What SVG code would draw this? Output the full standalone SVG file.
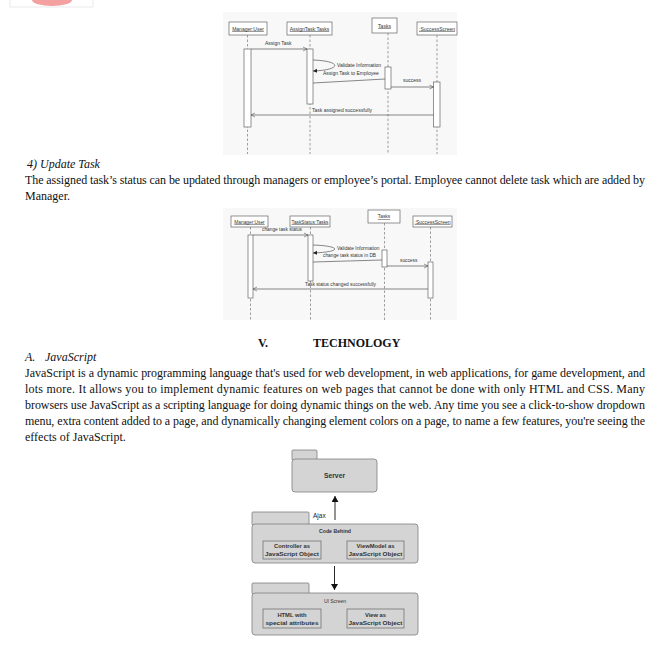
<svg xmlns="http://www.w3.org/2000/svg" width="661" height="648" viewBox="0 0 661 648">
<style>
.body{font-family:"Liberation Serif",serif;font-size:12px;fill:#111}
.it{font-style:italic}
.bd{font-weight:bold}
.sq{font-family:"Liberation Sans",sans-serif;font-size:5px;fill:#333}
.sq2{font-family:"Liberation Sans",sans-serif;font-size:4.8px;fill:#333}
.u{text-decoration:underline}
.lb{fill:#fff;stroke:#666;stroke-width:0.7}
.ll{stroke:#777;stroke-width:0.7;stroke-dasharray:2.5,2;fill:none}
.bar{fill:#fff;stroke:#666;stroke-width:0.7}
.msg{stroke:#555;stroke-width:0.7;fill:none}
.pk{fill:#d4d4d4;stroke:#7e7e7e;stroke-width:0.8}
.ib{fill:#d4d4d4;stroke:#666;stroke-width:0.7}
.pt{font-family:"Liberation Sans",sans-serif;fill:#333;text-anchor:middle}
.ibt{font-family:"Liberation Sans",sans-serif;fill:#333;text-anchor:middle;font-size:5.8px;font-weight:bold}
</style>
<defs>
<marker id="oa" markerWidth="6" markerHeight="6" refX="5" refY="3" orient="auto" markerUnits="userSpaceOnUse"><path d="M1,1 L5,3 L1,5" fill="none" stroke="#555" stroke-width="0.6"/></marker>
<marker id="fa" markerWidth="5" markerHeight="5" refX="4" refY="2.5" orient="auto" markerUnits="userSpaceOnUse"><path d="M0,0.5 L4,2.5 L0,4.5 Z" fill="#222"/></marker>
<marker id="pa" markerWidth="8" markerHeight="8" refX="6" refY="3.5" orient="auto" markerUnits="userSpaceOnUse"><path d="M0,0 L6,3.5 L0,7 Z" fill="#111"/></marker>
</defs>
<rect width="661" height="648" fill="#fff"/>
<!-- top-left remnant -->
<rect x="10" y="-2" width="83" height="9" fill="none" stroke="#e4e4e4" stroke-width="0.8"/>
<ellipse cx="52" cy="0" rx="20" ry="6" fill="#f4a0a0"/>

<!-- Sequence diagram 1 -->
<g id="seq1">
<rect x="223" y="12" width="234" height="143" fill="#f8f8f8"/>
<g id="s1-manager"><rect class="lb" x="229" y="22" width="38" height="13"/><text class="sq u" x="248" y="30.5" text-anchor="middle">Manager:User</text></g>
<g id="s1-assign"><rect class="lb" x="287" y="22" width="45" height="13"/><text class="sq u" x="309.5" y="30.5" text-anchor="middle">AssignTask:Tasks</text></g>
<g id="s1-tasks"><rect class="lb" x="372" y="18" width="25" height="15"/><text class="sq u" x="384.5" y="27.5" text-anchor="middle">Tasks</text></g>
<g id="s1-success"><rect class="lb" x="417" y="22" width="40" height="13"/><text class="sq u" x="437" y="30.5" text-anchor="middle" textLength="36" lengthAdjust="spacingAndGlyphs">:SuccessScreen</text></g>
<g id="s1-connectors">
<line class="ll" x1="247.5" y1="35" x2="247.5" y2="154"/>
<line class="ll" x1="310" y1="35" x2="310" y2="154"/>
<line class="ll" x1="388" y1="33" x2="388" y2="154"/>
<line class="ll" x1="437" y1="35" x2="437" y2="154"/>
<rect class="bar" x="244" y="49" width="7" height="78"/>
<rect class="bar" x="307" y="49" width="6" height="55"/>
<rect class="bar" x="385" y="67" width="6" height="22"/>
<rect class="bar" x="433.5" y="82" width="6.5" height="45"/>
<line class="msg" x1="251" y1="49" x2="307" y2="49" marker-end="url(#oa)"/>
<path class="msg" d="M313,60 C342,61 342,70 313,71" marker-end="url(#fa)"/>
<line class="msg" x1="313" y1="83" x2="385" y2="79"/>
<line class="msg" x1="391" y1="87" x2="433.5" y2="87" marker-end="url(#oa)"/>
<line class="msg" x1="433.5" y1="115" x2="251" y2="115" marker-end="url(#oa)"/>
</g>
<text class="sq" x="265" y="45">Assign Task</text>
<text class="sq" x="337" y="67">Validate Information</text>
<text class="sq" x="323" y="74.5">Assign Task to Employee</text>
<text class="sq" x="403" y="82">success</text>
<text class="sq" x="312" y="111.5">Task assigned successfully</text>
</g>

<!-- Text block 1 -->
<text class="body it" x="27" y="168">4)  Update Task</text>
<text class="body" x="25" y="184" textLength="620" lengthAdjust="spacing">The assigned task’s status can be updated through managers or employee’s portal. Employee cannot delete task which are added by</text>
<text class="body" x="25" y="200">Manager.</text>

<!-- Sequence diagram 2 -->
<g id="seq2">
<rect x="223" y="208" width="234" height="112" fill="#f8f8f8"/>
<g id="s2-manager"><rect class="lb" x="231" y="216" width="37" height="11"/><text class="sq2 u" x="249.5" y="223.5" text-anchor="middle">Manager:User</text></g>
<g id="s2-status"><rect class="lb" x="290" y="216" width="40" height="11"/><text class="sq2 u" x="310" y="223.5" text-anchor="middle" textLength="37" lengthAdjust="spacingAndGlyphs">TaskStatus:Tasks</text></g>
<g id="s2-tasks"><rect class="lb" x="368" y="210" width="32" height="13"/><text class="sq2 u" x="384" y="218" text-anchor="middle">Tasks</text></g>
<g id="s2-success"><rect class="lb" x="413" y="216" width="39" height="11"/><text class="sq2 u" x="432.5" y="223.5" text-anchor="middle" textLength="36" lengthAdjust="spacingAndGlyphs">:SuccessScreen</text></g>
<g id="s2-connectors">
<line class="ll" x1="250.5" y1="227" x2="250.5" y2="320"/>
<line class="ll" x1="310.5" y1="227" x2="310.5" y2="320"/>
<line class="ll" x1="384.5" y1="223" x2="384.5" y2="320"/>
<line class="ll" x1="430.5" y1="227" x2="430.5" y2="320"/>
<rect class="bar" x="248" y="235" width="5" height="63"/>
<rect class="bar" x="308" y="235" width="5" height="46"/>
<rect class="bar" x="382" y="250" width="5" height="17"/>
<rect class="bar" x="428" y="262" width="5" height="36"/>
<line class="msg" x1="253" y1="235" x2="308" y2="235" marker-end="url(#oa)"/>
<path class="msg" d="M313,245 C342,246 342,252 313,253" marker-end="url(#fa)"/>
<line class="msg" x1="313" y1="262" x2="382" y2="260"/>
<line class="msg" x1="387" y1="266" x2="428" y2="266" marker-end="url(#oa)"/>
<line class="msg" x1="428" y1="289" x2="253" y2="289" marker-end="url(#oa)"/>
</g>
<text class="sq2" x="262" y="231">change task status</text>
<text class="sq2" x="337" y="249.5">Validate Information</text>
<text class="sq2" x="323" y="256.5">change task status in DB</text>
<text class="sq2" x="400" y="261.5">success</text>
<text class="sq2" x="305" y="286">Task status changed successfully</text>
</g>

<!-- Section text -->
<text class="body bd" x="258" y="347">V.</text>
<text class="body bd" x="313" y="347">TECHNOLOGY</text>
<text class="body it" x="25" y="361">A.</text>
<text class="body it" x="45" y="361">JavaScript</text>
<text class="body" x="25" y="377" textLength="620" lengthAdjust="spacing">JavaScript is a dynamic programming language that's used for web development, in web  applications, for game development, and</text>
<text class="body" x="25" y="393" textLength="620" lengthAdjust="spacing">lots more. It allows you to implement dynamic  features on web pages that cannot be done with only HTML and CSS. Many</text>
<text class="body" x="25" y="409" textLength="620" lengthAdjust="spacing">browsers use JavaScript as a scripting language for doing dynamic things on the web.  Any time you see a click-to-show dropdown</text>
<text class="body" x="25" y="425" textLength="620" lengthAdjust="spacing">menu, extra content added to a page, and  dynamically changing element colors on a page, to name a few features, you're seeing the</text>
<text class="body" x="25" y="441">effects of JavaScript.</text>

<!-- Package diagram -->
<g id="pkg-server">
<rect class="pk" x="292" y="450" width="25" height="10" rx="1"/>
<rect class="pk" x="292" y="459" width="85" height="33" rx="3"/>
<text class="pt" x="334.5" y="477.5" font-size="6.8" font-weight="bold">Server</text>
</g>
<g id="pkg-code">
<rect class="pk" x="252" y="512" width="57" height="13" rx="1"/>
<rect class="pk" x="252" y="524" width="166" height="39" rx="3"/>
<text class="pt" x="335" y="532.5" font-size="5.2" font-weight="bold">Code Behind</text>
<g id="controller"><rect class="ib" x="263" y="541" width="58" height="18"/>
<text class="ibt" x="292" y="548">Controller as</text>
<text class="ibt" x="292" y="556" textLength="54" lengthAdjust="spacingAndGlyphs">JavaScript Object</text></g>
<g id="viewmodel"><rect class="ib" x="347" y="541" width="57" height="18"/>
<text class="ibt" x="375.5" y="548">ViewModel as</text>
<text class="ibt" x="375.5" y="556" textLength="54" lengthAdjust="spacingAndGlyphs">JavaScript Object</text></g>
</g>
<g id="pkg-ui">
<rect class="pk" x="252" y="583" width="57" height="11" rx="1"/>
<rect class="pk" x="252" y="593" width="166" height="42" rx="3"/>
<text class="pt" x="335" y="602.5" font-size="5">UI Screen</text>
<g id="html"><rect class="ib" x="263" y="609" width="58" height="19"/>
<text class="ibt" x="292" y="617">HTML with</text>
<text class="ibt" x="292" y="625" textLength="53" lengthAdjust="spacingAndGlyphs">special attributes</text></g>
<g id="view"><rect class="ib" x="347" y="609" width="57" height="19"/>
<text class="ibt" x="375.5" y="617">View as</text>
<text class="ibt" x="375.5" y="625" textLength="54" lengthAdjust="spacingAndGlyphs">JavaScript Object</text></g>
</g>
<g id="pkg-connectors">
<line x1="335" y1="520" x2="335" y2="496" stroke="#111" stroke-width="0.9" marker-end="url(#pa)"/>
<line x1="334.5" y1="566" x2="334.5" y2="590" stroke="#111" stroke-width="0.9" marker-end="url(#pa)"/>
</g>
<text x="313" y="517.5" font-family="Liberation Sans, sans-serif" font-size="6.5" fill="#222">Ajax</text>
</svg>
